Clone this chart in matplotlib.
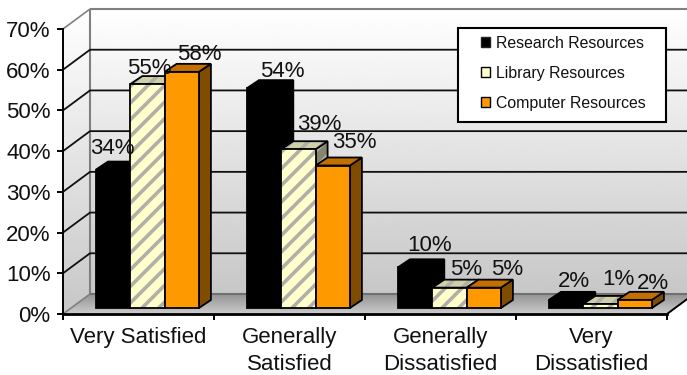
import numpy as np
import matplotlib
matplotlib.use('Agg')
import matplotlib.pyplot as plt
from matplotlib.patches import Polygon, Patch, Rectangle

plt.rcParams['font.family'] = ['Liberation Sans', 'DejaVu Sans']
plt.rcParams['hatch.linewidth'] = 2.6

categories = ['Very Satisfied', 'Generally\nSatisfied', 'Generally\nDissatisfied', 'Very\nDissatisfied']
series_names = ['Research Resources', 'Library Resources', 'Computer Resources']
research = [34, 54, 10, 2]
library = [55, 39, 5, 1]
computer = [58, 35, 5, 2]
y_ticks = [0, 10, 20, 30, 40, 50, 60, 70]

# hand placed value labels, pixels from the top middle of each bar front
label_dx = [[-1, 18, 14, 8], [2, 21, 17, 18], [18, 22, 23, 18]]
label_dy = [[16, 11, 16, 13], [10, 19, 13, 19], [12, 17, 13, 11]]

W, H = 687, 375
fig = plt.figure(figsize=(W / 100, H / 100), dpi=100)
ax = fig.add_axes([63 / W, 1 - 314 / H, 604 / W, 285 / H])
ax.set_xlim(0, 4)
ax.set_ylim(0, 70)
ax.patch.set_visible(False)

# pixel sizes turned into data units
ux = 4 / 604
uy = 70 / 285
wall_dx, wall_dy = 27 * ux, 20 * uy
bar_left, bar_w = 33 * ux, 34.3 * ux
base = 6 * uy
side_dx, side_dy = 12 * ux, 8 * uy


def gradient(poly, top, bottom, y0, y1):
    # vertical grey ramp clipped to a polygon
    clip = Polygon(poly, closed=True, transform=ax.transData, fc='none', ec='none')
    ax.add_patch(clip)
    ramp = np.linspace(top, bottom, 128).reshape(-1, 1)
    im = ax.imshow(ramp, cmap='gray', vmin=0, vmax=1, aspect='auto', zorder=0,
                   extent=[-0.2, 4.4, y0, y1], origin='upper')
    im.set_clip_box(fig.bbox)
    im.set_clip_path(clip)


top_y = 70 + wall_dy
right = 4 + wall_dx
gradient([(wall_dx, wall_dy), (right, wall_dy), (right, top_y), (wall_dx, top_y)], 1.0, 0.78, wall_dy, top_y)
gradient([(0, 0), (wall_dx, wall_dy), (wall_dx, top_y), (0, 70)], 1.0, 0.78, 0, top_y)
gradient([(0, 0), (wall_dx, wall_dy), (right, wall_dy), (4, 0)], 0.58, 0.8, 0, wall_dy)
ax.set_xlim(0, 4)
ax.set_ylim(0, 70)

# walls and grid
grey = '#808080'
line = dict(clip_on=False, solid_capstyle='butt')
ax.plot([wall_dx, right], [top_y, top_y], color=grey, lw=1.5, zorder=1, **line)
ax.plot([wall_dx, wall_dx], [wall_dy, top_y], color=grey, lw=1.5, zorder=1, **line)
ax.plot([0, wall_dx], [70, top_y], color=grey, lw=1.2, zorder=1, **line)
ax.plot([wall_dx, right], [wall_dy, wall_dy], color='#707070', lw=1.5, zorder=1, **line)
ax.plot([0, wall_dx], [0, wall_dy], color=grey, lw=1.2, zorder=1, **line)
ax.plot([4, right], [0, wall_dy], color='black', lw=1.4, zorder=1, **line)
for t in y_ticks[1:-1]:
    ax.plot([0, wall_dx, right], [t, t + wall_dy, t + wall_dy], color='#101010', lw=1.3, zorder=1, **line)

fills = [('black', 'black', 'black'), ('#FFFFCC', '#CFCFAA', '#85856B'), ('#FF9900', '#C47000', '#804D00')]
z = 3
for j, vals in enumerate([research, library, computer]):
    front, top, side = fills[j]
    for i, v in enumerate(vals):
        x0 = i + bar_left + j * bar_w
        x1 = x0 + bar_w
        y0, y1 = base, base + v
        faces = [([(x1, y0), (x1 + side_dx, y0 + side_dy), (x1 + side_dx, y1 + side_dy), (x1, y1)], side),
                 ([(x0, y1), (x1, y1), (x1 + side_dx, y1 + side_dy), (x0 + side_dx, y1 + side_dy)], top),
                 ([(x0, y0), (x1, y0), (x1, y1), (x0, y1)], front)]
        for pts, col in faces:
            ax.add_patch(Polygon(pts, closed=True, fc=col, ec='none', zorder=z + i * 10 + j, clip_on=False))
            if j == 1:
                # stripes on the library bars
                ax.add_patch(Polygon(pts, closed=True, fc='none', ec='#B0B0A8', lw=0, hatch='//',
                                     zorder=z + i * 10 + j, clip_on=False))
            ax.add_patch(Polygon(pts, closed=True, fc='none', ec='black', lw=1.3, joinstyle='miter',
                                 zorder=z + i * 10 + j, clip_on=False))
        ax.annotate('%d%%' % v, xy=((x0 + x1) / 2, y1),
                    xytext=(label_dx[j][i] * 0.72, label_dy[j][i] * 0.72), textcoords='offset points',
                    ha='center', va='baseline', fontsize=16, color='#111111', zorder=60, annotation_clip=False)

# axes lines, ticks and labels
for s in ['top', 'right']:
    ax.spines[s].set_visible(False)
ax.spines['left'].set_linewidth(1.4)
ax.spines['bottom'].set_linewidth(2.0)
ax.spines['left'].set_zorder(2)
ax.spines['bottom'].set_zorder(2)
ax.set_yticks(y_ticks)
ax.set_yticklabels(['%d%%' % t for t in y_ticks], fontsize=16, color='#111111')
ax.tick_params(axis='y', length=4, width=1.4, pad=5)
ax.set_xticks(range(5))
ax.set_xticklabels([])
ax.tick_params(axis='x', which='major', length=4, width=1.4)
ax.set_xticks(np.arange(4) + 0.5, minor=True)
ax.set_xticklabels(categories, minor=True, fontsize=16, color='#111111', linespacing=1.34)
ax.tick_params(axis='x', which='minor', length=0, pad=9.5)

# legend box
box = Rectangle((458 / W, 1 - 122 / H), 208 / W, 94 / H, transform=fig.transFigure,
                fc='white', ec='black', lw=1.5, zorder=70, clip_on=False)
ax.add_patch(box)
handles = [Patch(fc='black', ec='#222222'), Patch(fc='#FFFFCC', ec='black'), Patch(fc='#FF9900', ec='black')]
leg = ax.legend(handles, series_names, frameon=False, fontsize=11.4, loc='upper left',
                bbox_to_anchor=(472 / W, 1 - 27 / H), bbox_transform=fig.transFigure,
                handlelength=0.56, handleheight=0.56, handletextpad=0.4, labelspacing=0.95,
                borderpad=0.55, borderaxespad=0, labelcolor='#111111')
leg.set_zorder(71)

fig.savefig('out.png', dpi=100)
